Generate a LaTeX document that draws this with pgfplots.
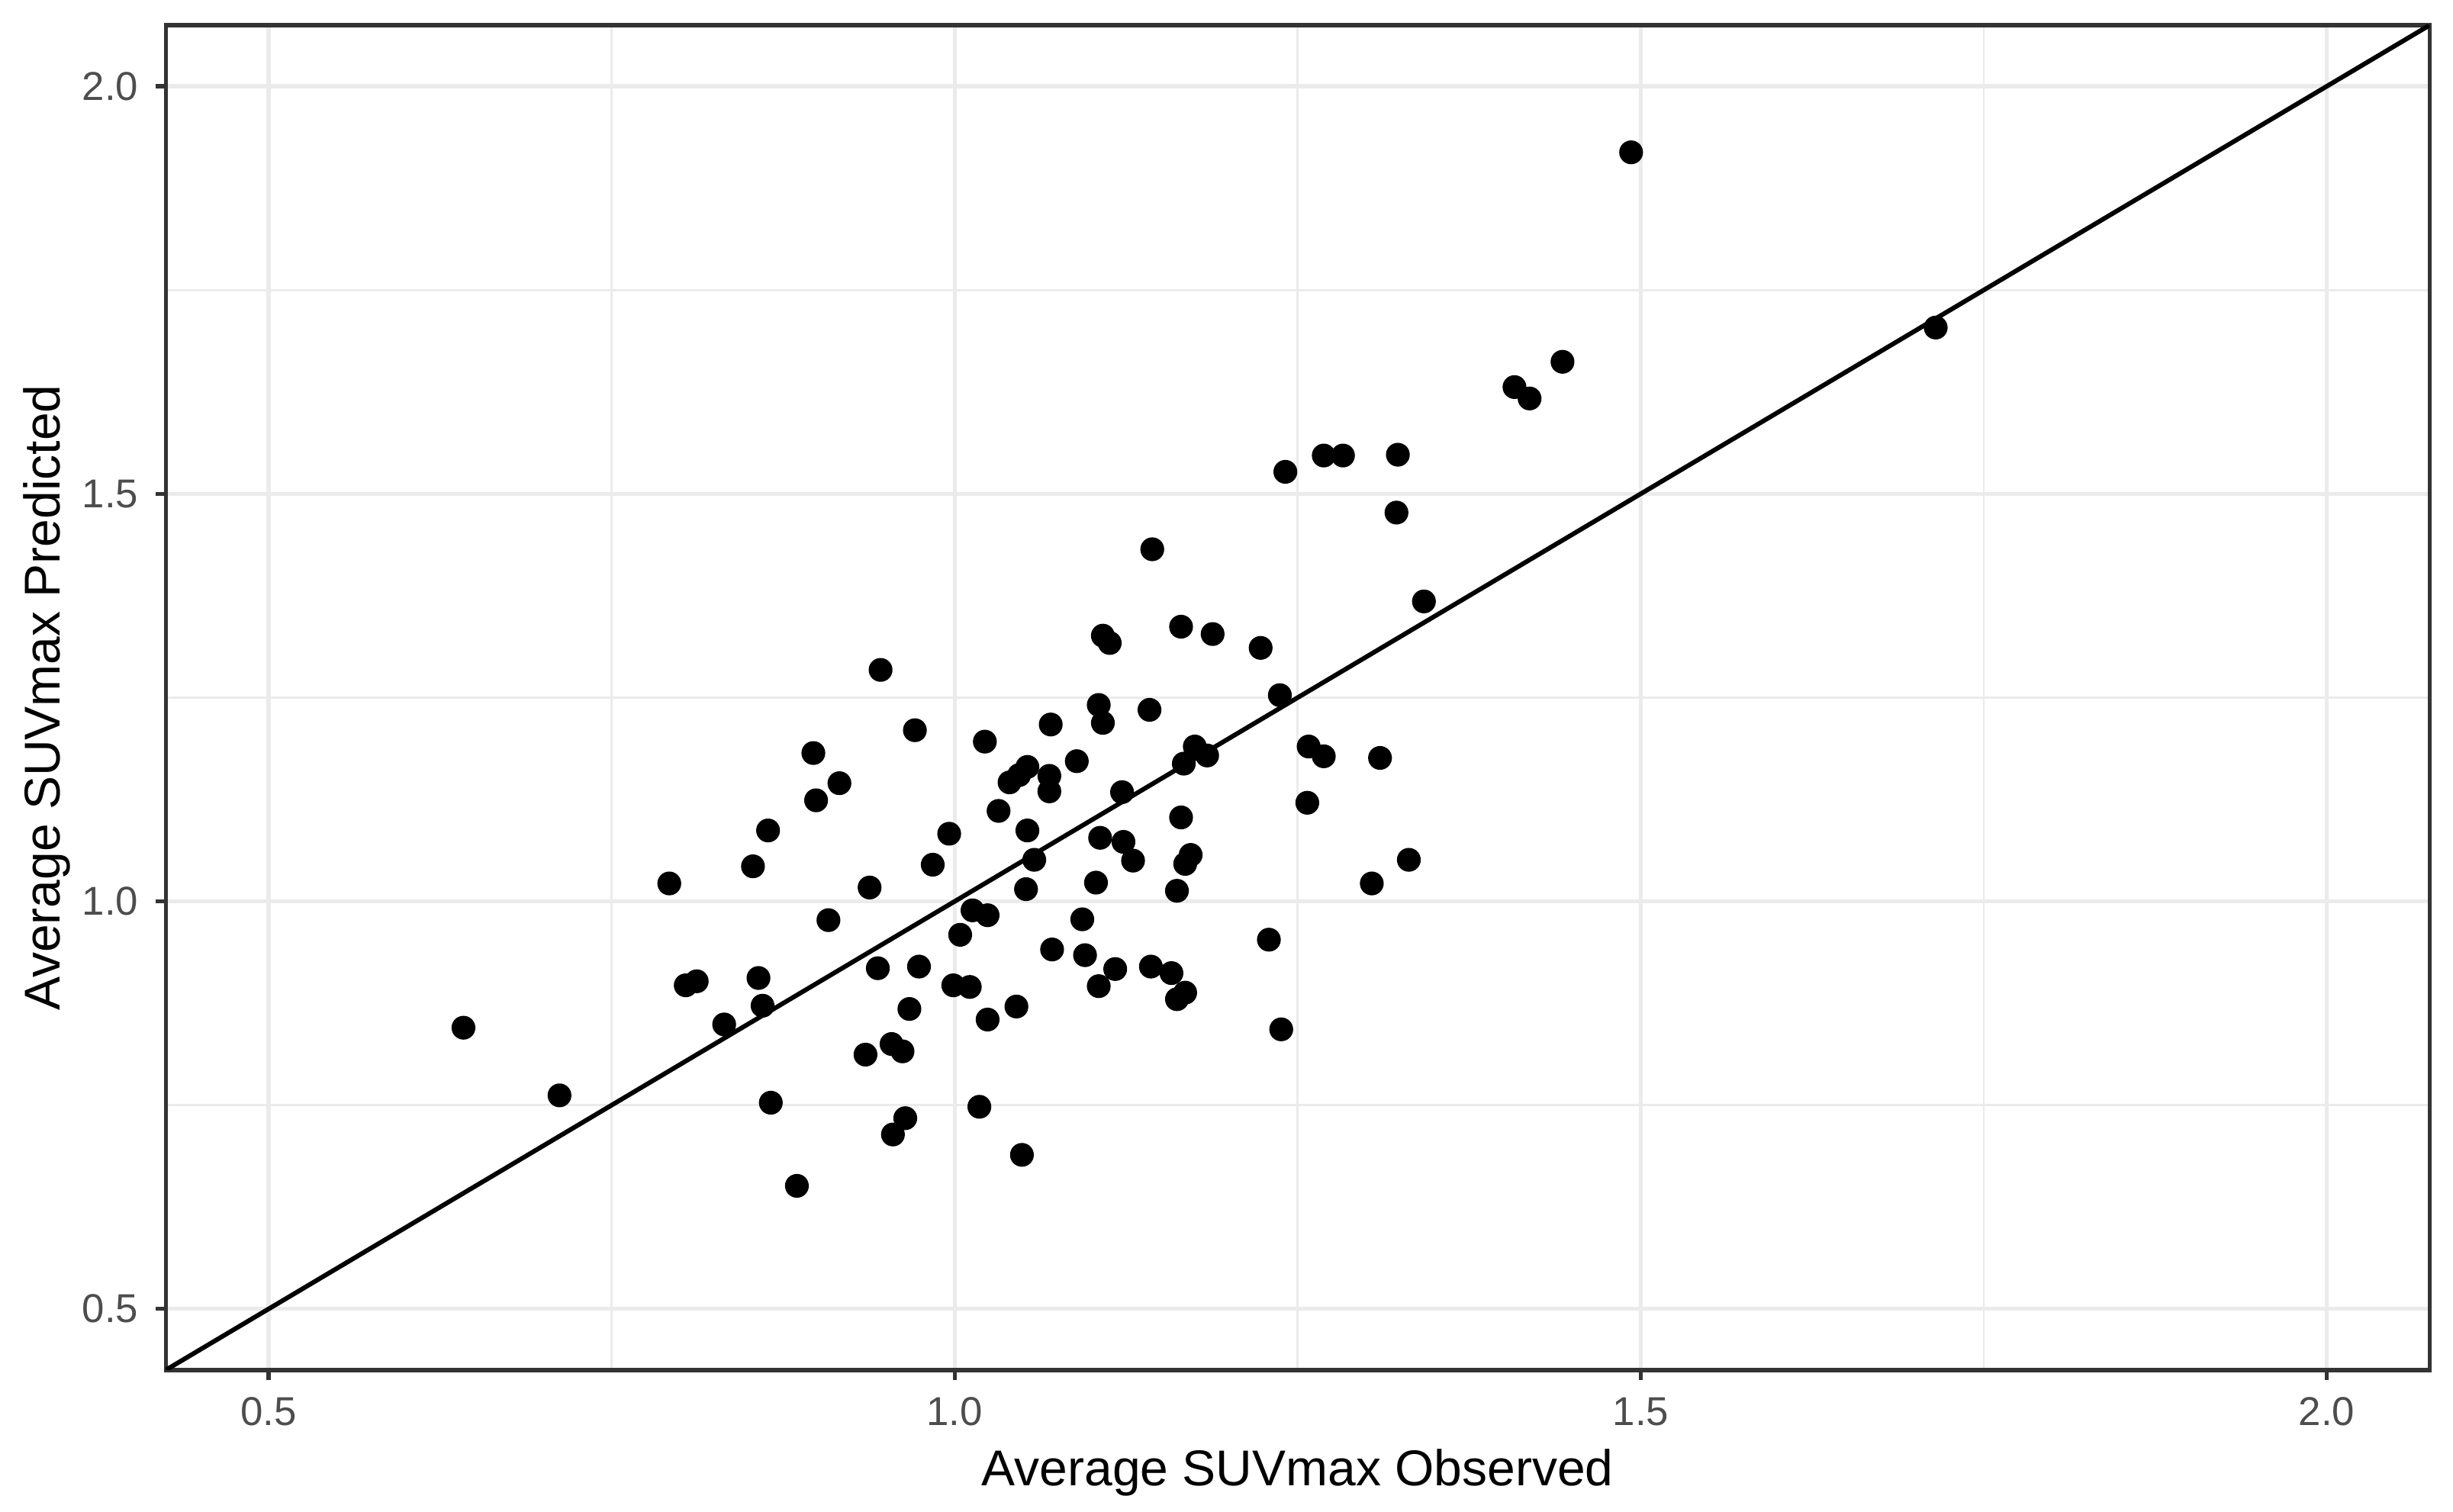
\documentclass[border=0pt]{standalone}
\usepackage{fontspec}
\setmainfont{Liberation Sans}
\usepackage{pgfplots}
\usepackage{pgfplotstable}
\pgfplotsset{compat=1.18}
\definecolor{grid92}{HTML}{EBEBEB}
\definecolor{grey20}{HTML}{333333}
\definecolor{grey30}{HTML}{4D4D4D}

% observed vs predicted average SUVmax
\pgfplotstableread{
obs pred
1.493 1.919
1.715 1.704
1.408 1.631
1.419 1.617
1.443 1.662
1.269 1.547
1.283 1.547
1.323 1.548
1.241 1.527
1.322 1.477
1.144 1.432
1.342 1.368
1.165 1.337
1.188 1.328
1.108 1.326
1.113 1.317
1.223 1.311
0.946 1.284
1.237 1.253
1.105 1.241
1.142 1.235
1.108 1.219
1.070 1.217
0.971 1.210
1.022 1.196
0.897 1.182
1.175 1.190
1.258 1.190
1.184 1.179
1.269 1.178
1.310 1.176
1.089 1.172
1.167 1.169
1.053 1.165
1.047 1.155
1.069 1.154
1.040 1.146
0.916 1.145
1.069 1.135
1.122 1.134
0.899 1.124
1.257 1.121
1.032 1.111
1.165 1.103
0.864 1.087
0.996 1.083
1.053 1.087
1.106 1.078
1.123 1.073
1.058 1.051
1.130 1.050
1.168 1.046
1.172 1.057
1.331 1.051
0.853 1.043
0.984 1.045
0.792 1.022
0.938 1.017
1.052 1.015
1.103 1.023
1.162 1.013
1.304 1.022
1.013 0.989
1.024 0.983
0.908 0.977
1.093 0.978
1.004 0.959
1.229 0.953
1.071 0.941
1.095 0.934
0.974 0.920
0.944 0.918
1.117 0.917
1.143 0.920
1.158 0.912
0.857 0.906
0.804 0.897
0.812 0.902
0.999 0.897
1.011 0.895
1.105 0.896
1.168 0.888
1.162 0.880
0.860 0.872
1.045 0.871
0.967 0.868
1.024 0.855
0.832 0.849
0.642 0.845
1.238 0.843
0.954 0.825
0.962 0.816
0.935 0.812
0.712 0.762
0.866 0.753
1.018 0.748
0.964 0.734
0.955 0.714
1.049 0.689
0.885 0.651
}\suvdata

\begin{document}
\begin{tikzpicture}
\begin{axis}[
  name=ax,
  scale only axis,
  width=494.5pt, height=293.8pt,
  xmin=0.425, xmax=2.075,
  ymin=0.425, ymax=2.075,
  xtick={0.5,1,1.5,2},
  ytick={0.5,1,1.5,2},
  minor tick num=1,
  grid=both,
  major grid style={grid92, line width=0.9pt},
  minor grid style={grid92, line width=0.45pt},
  axis line style={grey20, line width=0.9pt},
  tick align=outside,
  tick pos=left,
  major tick length=2.2pt,
  minor tick length=0pt,
  tick style={grey20, line width=0.9pt},
  /pgf/number format/assume math mode=true,
  /pgf/number format/.cd, fixed, fixed zerofill, precision=1,
  /pgfplots/.cd,
  ticklabel style={font=\fontsize{8.8}{10}\selectfont, text=grey30, inner sep=0pt},
  xticklabel style={anchor=north, yshift=-3.6pt},
  yticklabel style={anchor=east, xshift=-3.6pt},
]
\addplot[only marks, mark=*, mark size=2.4pt, black] table[x=obs, y=pred] {\suvdata};
\addplot[black, line width=1pt] coordinates {(0.425,0.425) (2.075,2.075)};
\end{axis}
\node[anchor=base, font=\fontsize{11}{13}\selectfont] at ([yshift=-25.3pt]ax.south) {Average SUVmax Observed};
\node[anchor=base, rotate=90, font=\fontsize{11}{13}\selectfont] at ([xshift=-23.2pt]ax.west) {Average SUVmax Predicted};
\pgfresetboundingbox
\path[use as bounding box] ([shift={(-36.2pt,-31pt)}]ax.south west) rectangle ([shift={(5.1pt,5.5pt)}]ax.north east);
\end{tikzpicture}
\end{document}
